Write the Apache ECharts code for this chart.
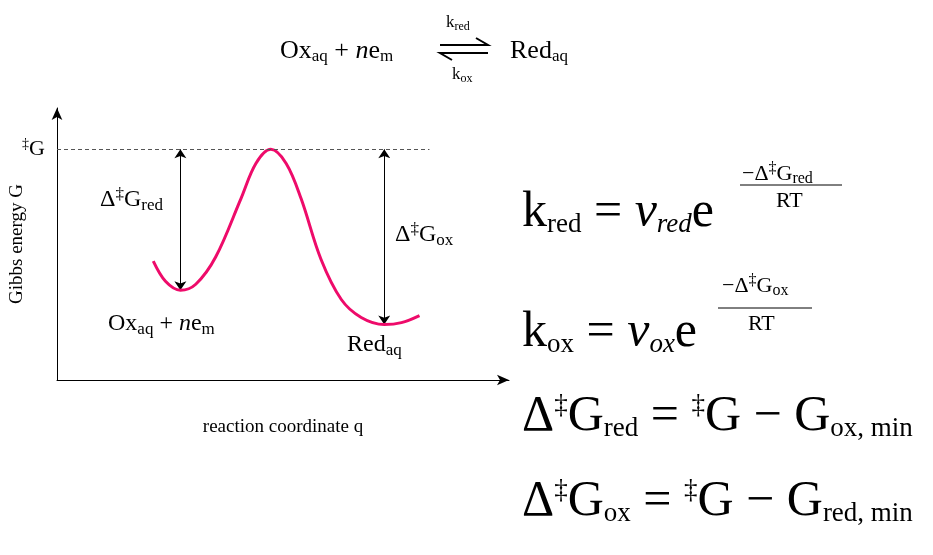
<!DOCTYPE html>
<html>
<head>
<meta charset="UTF-8">
<title>energy diagram</title>
<script src="https://cdn.jsdelivr.net/npm/echarts@6/dist/echarts.min.js"></script>
</head>
<body style="margin:0;background:#fff;">
<div id="chart" style="width:933px;height:555px;"></div>
<script>
// reaction coordinate (0..100) and Gibbs energy (0..100)
var curveX = [21.3, 24, 27.3, 30.7, 35.1, 40.7, 44, 47.3, 50.7, 54, 58.4, 62.9, 67.3, 72.4, 76.2, 80.2];
var curveY = [43.7, 36.3, 33, 35.2, 45.2, 66.7, 79.6, 84.8, 79.6, 66.7, 44.4, 29.6, 23, 20.4, 21.1, 23.7];
var peakG = 84.8;
var dashEndX = 82.4;
var arrowRed = [27.3, 33];   // x, minimum of Ox
var arrowOx = [72.4, 20.4];  // x, minimum of Red

var serif = 'Liberation Serif';
var chart = echarts.init(document.getElementById('chart'));

function rich(big, sub) {
    return {
        n: {fontSize: big, fontFamily: serif, color: '#000'},
        i: {fontSize: big, fontFamily: serif, fontStyle: 'italic', color: '#000'},
        s: {fontSize: sub, fontFamily: serif, color: '#000', padding: [Math.round(big * 0.45), 0, 0, 0]},
        si: {fontSize: sub, fontFamily: serif, fontStyle: 'italic', color: '#000', padding: [Math.round(big * 0.45), 0, 0, 0]},
        u: {fontSize: sub, fontFamily: serif, color: '#000', padding: [0, 0, Math.round(big * 0.45), 0]}
    };
}
function txt(x, y, str, big, sub) {
    return {type: 'text', left: x, top: y, style: {text: str, rich: rich(big, sub)}};
}
function seg(pts) {
    return {type: 'polyline', shape: {points: pts}, style: {stroke: '#000', lineWidth: 2, fill: null}};
}

var curve = curveX.map(function (x, i) { return [x, curveY[i]]; });

chart.setOption({
    animation: false,
    grid: {left: 57, top: 108, width: 452, height: 272},
    xAxis: {
        type: 'value', min: 0, max: 100,
        axisLine: {onZero: false, symbol: ['none', 'arrow'], symbolSize: [8, 12], lineStyle: {color: '#000'}},
        axisTick: {show: false}, axisLabel: {show: false}, splitLine: {show: false},
        name: 'reaction coordinate q', nameLocation: 'middle', nameGap: 38,
        nameTextStyle: {fontFamily: serif, fontSize: 19, color: '#000', padding: [0, 0, 0, 0]}
    },
    yAxis: {
        type: 'value', min: 0, max: 100,
        axisLine: {symbol: ['none', 'arrow'], symbolSize: [8, 12], lineStyle: {color: '#000'}},
        axisTick: {show: false}, axisLabel: {show: false}, splitLine: {show: false},
        name: 'Gibbs energy G', nameLocation: 'middle', nameGap: 30, nameRotate: 90,
        nameTextStyle: {fontFamily: serif, fontSize: 19, color: '#000', padding: [0, 0, 0, 0]}
    },
    series: [{
        type: 'line', data: curve, smooth: 0.35, symbol: 'none',
        lineStyle: {color: '#ee0b6a', width: 3},
        markLine: {
            silent: true, symbol: 'none', label: {show: false},
            lineStyle: {color: '#555', type: [4, 3], width: 1},
            data: [[{coord: [0, peakG]}, {coord: [dashEndX, peakG]}]]
        }
    }, {
        type: 'lines', coordinateSystem: 'cartesian2d', polyline: false,
        symbol: ['arrow', 'arrow'], symbolSize: 9,
        lineStyle: {color: '#000', width: 1, opacity: 1},
        data: [
            {coords: [[arrowRed[0], peakG], [arrowRed[0], arrowRed[1]]]},
            {coords: [[arrowOx[0], peakG], [arrowOx[0], arrowOx[1]]]}
        ]
    }],
    graphic: [
        txt(280, 38, '{n|Ox}{s|aq}{n| + }{i|n}{n|e}{s|m}', 26, 17),
        txt(510, 38, '{n|Red}{s|aq}', 26, 17),
        txt(446, 14, '{n|k}{s|red}', 17, 12),
        txt(452, 66, '{n|k}{s|ox}', 17, 12),
        seg([[440, 45], [488, 45], [476, 38]]),
        seg([[452, 60], [440, 53], [488, 53]]),
        txt(22, 137, '{u|‡}{n|G}', 22, 14),
        txt(100, 186, '{n|Δ}{u|‡}{n|G}{s|red}', 24, 17),
        txt(395, 221, '{n|Δ}{u|‡}{n|G}{s|ox}', 24, 17),
        txt(108, 312, '{n|Ox}{s|aq}{n| + }{i|n}{n|e}{s|m}', 24, 17),
        txt(347, 333, '{n|Red}{s|aq}', 24, 17),

        txt(522, 188, '{n|k}{s|red}{n| = }{i|ν}{si|red}{n|e}', 50, 27),
        txt(742, 161, '{n|−Δ}{u|‡}{n|G}{s|red}', 22, 16),
        {type: 'line', shape: {x1: 740, y1: 185, x2: 842, y2: 185}, style: {stroke: '#000', lineWidth: 1}},
        txt(776, 190, '{n|RT}', 22, 16),

        txt(522, 308, '{n|k}{s|ox}{n| = }{i|ν}{si|ox}{n|e}', 50, 27),
        txt(722, 273, '{n|−Δ}{u|‡}{n|G}{s|ox}', 22, 16),
        {type: 'line', shape: {x1: 718, y1: 308, x2: 812, y2: 308}, style: {stroke: '#000', lineWidth: 1}},
        txt(748, 313, '{n|RT}', 22, 16),

        txt(522, 392, '{n|Δ}{u|‡}{n|G}{s|red}{n| = }{u|‡}{n|G − G}{s|ox, min}', 50, 27),
        txt(522, 477, '{n|Δ}{u|‡}{n|G}{s|ox}{n| = }{u|‡}{n|G − G}{s|red, min}', 50, 27)
    ]
});
</script>
</body>
</html>
